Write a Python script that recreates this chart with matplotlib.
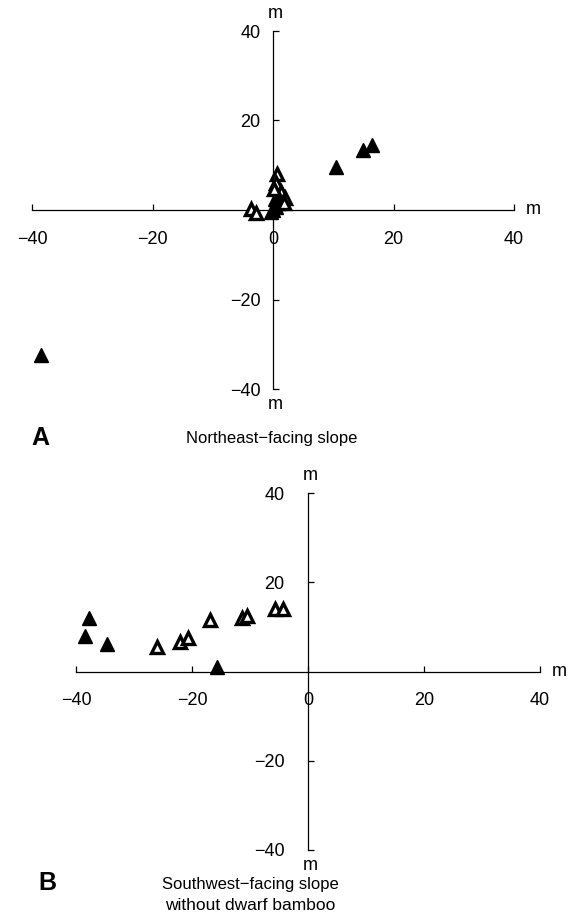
import matplotlib
matplotlib.use("Agg")
from matplotlib import pyplot as plt

plt.rcParams['font.family'] = ['Liberation Sans', 'DejaVu Sans']

# panel A: northeast-facing slope
a_filled_x = [-38.5, 10.5, 15.0, 16.5, 0.0, 0.5, -0.4, 1.0, 0.3]
a_filled_y = [-32.5, 9.5, 13.5, 14.5, 0.0, 0.6, -0.4, 1.5, 2.5]
a_open_x = [0.6, 0.5, 1.3, 2.0, 1.8, -3.6, -2.8, 0.1]
a_open_y = [8.0, 6.0, 4.0, 2.6, 1.5, 0.3, -0.6, 4.8]

# panel B: southwest-facing slope without dwarf bamboo
b_filled_x = [-37.8, -38.4, -34.7, -15.7]
b_filled_y = [12.1, 7.9, 6.1, 1.1]
b_open_x = [-26.0, -22.1, -20.7, -16.9, -11.4, -10.5, -5.7, -4.3]
b_open_y = [5.4, 6.7, 7.6, 11.5, 12.1, 12.4, 13.9, 13.9]

xticks = [-40, -20, 0, 20, 40]
yticks = [-40, -20, 20, 40]

W, H = 569, 923
fig = plt.figure(figsize=(W/100, H/100), dpi=100)

def make_axes(x0, x1, ytop, ybot, ypad):
    ax = fig.add_axes([x0/W, 1-ybot/H, (x1-x0)/W, (ybot-ytop)/H])
    ax.set_xlim(-40, 40)
    ax.set_ylim(-40, 40)
    ax.patch.set_alpha(0)
    for s in ['top', 'right']:
        ax.spines[s].set_visible(False)
    ax.spines['left'].set_position(('data', 0))
    ax.spines['bottom'].set_position(('data', 0))
    for s in ['left', 'bottom']:
        ax.spines[s].set_linewidth(0.9)
    ax.set_xticks(xticks)
    ax.set_yticks(yticks)
    ax.tick_params(axis='x', direction='in', length=4, width=0.9, pad=15, labelsize=13)
    ax.tick_params(axis='y', direction='in', length=4, width=0.9, pad=ypad, labelsize=13)
    ax.set_xticklabels([str(t).replace('-', '\u2212') for t in xticks])
    ax.set_yticklabels([str(t).replace('-', '\u2212') for t in yticks])
    ax.text(42.0, 0, 'm', fontsize=13, va='center', ha='left')
    ax.text(0.4, 42, 'm', fontsize=13, va='bottom', ha='center')
    ax.text(0.4, -41.5, 'm', fontsize=13, va='top', ha='center')
    return ax

def draw(ax, fx, fy, ox, oy):
    ax.plot(fx, fy, '^', ms=10, color='black', mec='black', clip_on=False, zorder=3)
    ax.plot(ox, oy, '^', ms=9, mfc='white', mec='black', mew=2.4, clip_on=False, zorder=3)

axA = make_axes(32, 514, 31, 389, 9)
draw(axA, a_filled_x, a_filled_y, a_open_x, a_open_y)

axB = make_axes(76, 540, 493, 850, 17)
draw(axB, b_filled_x, b_filled_y, b_open_x, b_open_y)

fig.text(40/W, 1-438/H, 'A', fontsize=18, fontweight='bold', ha='center', va='center')
fig.text(272/W, 1-438/H, 'Northeast\u2212facing slope', fontsize=12, ha='center', va='center')
fig.text(47/W, 1-883/H, 'B', fontsize=18, fontweight='bold', ha='center', va='center')
fig.text(250/W, 1-884/H, 'Southwest\u2212facing slope', fontsize=12, ha='center', va='center')
fig.text(250/W, 1-906/H, 'without dwarf bamboo', fontsize=12.5, ha='center', va='center')

fig.savefig('out.png', dpi=100)
